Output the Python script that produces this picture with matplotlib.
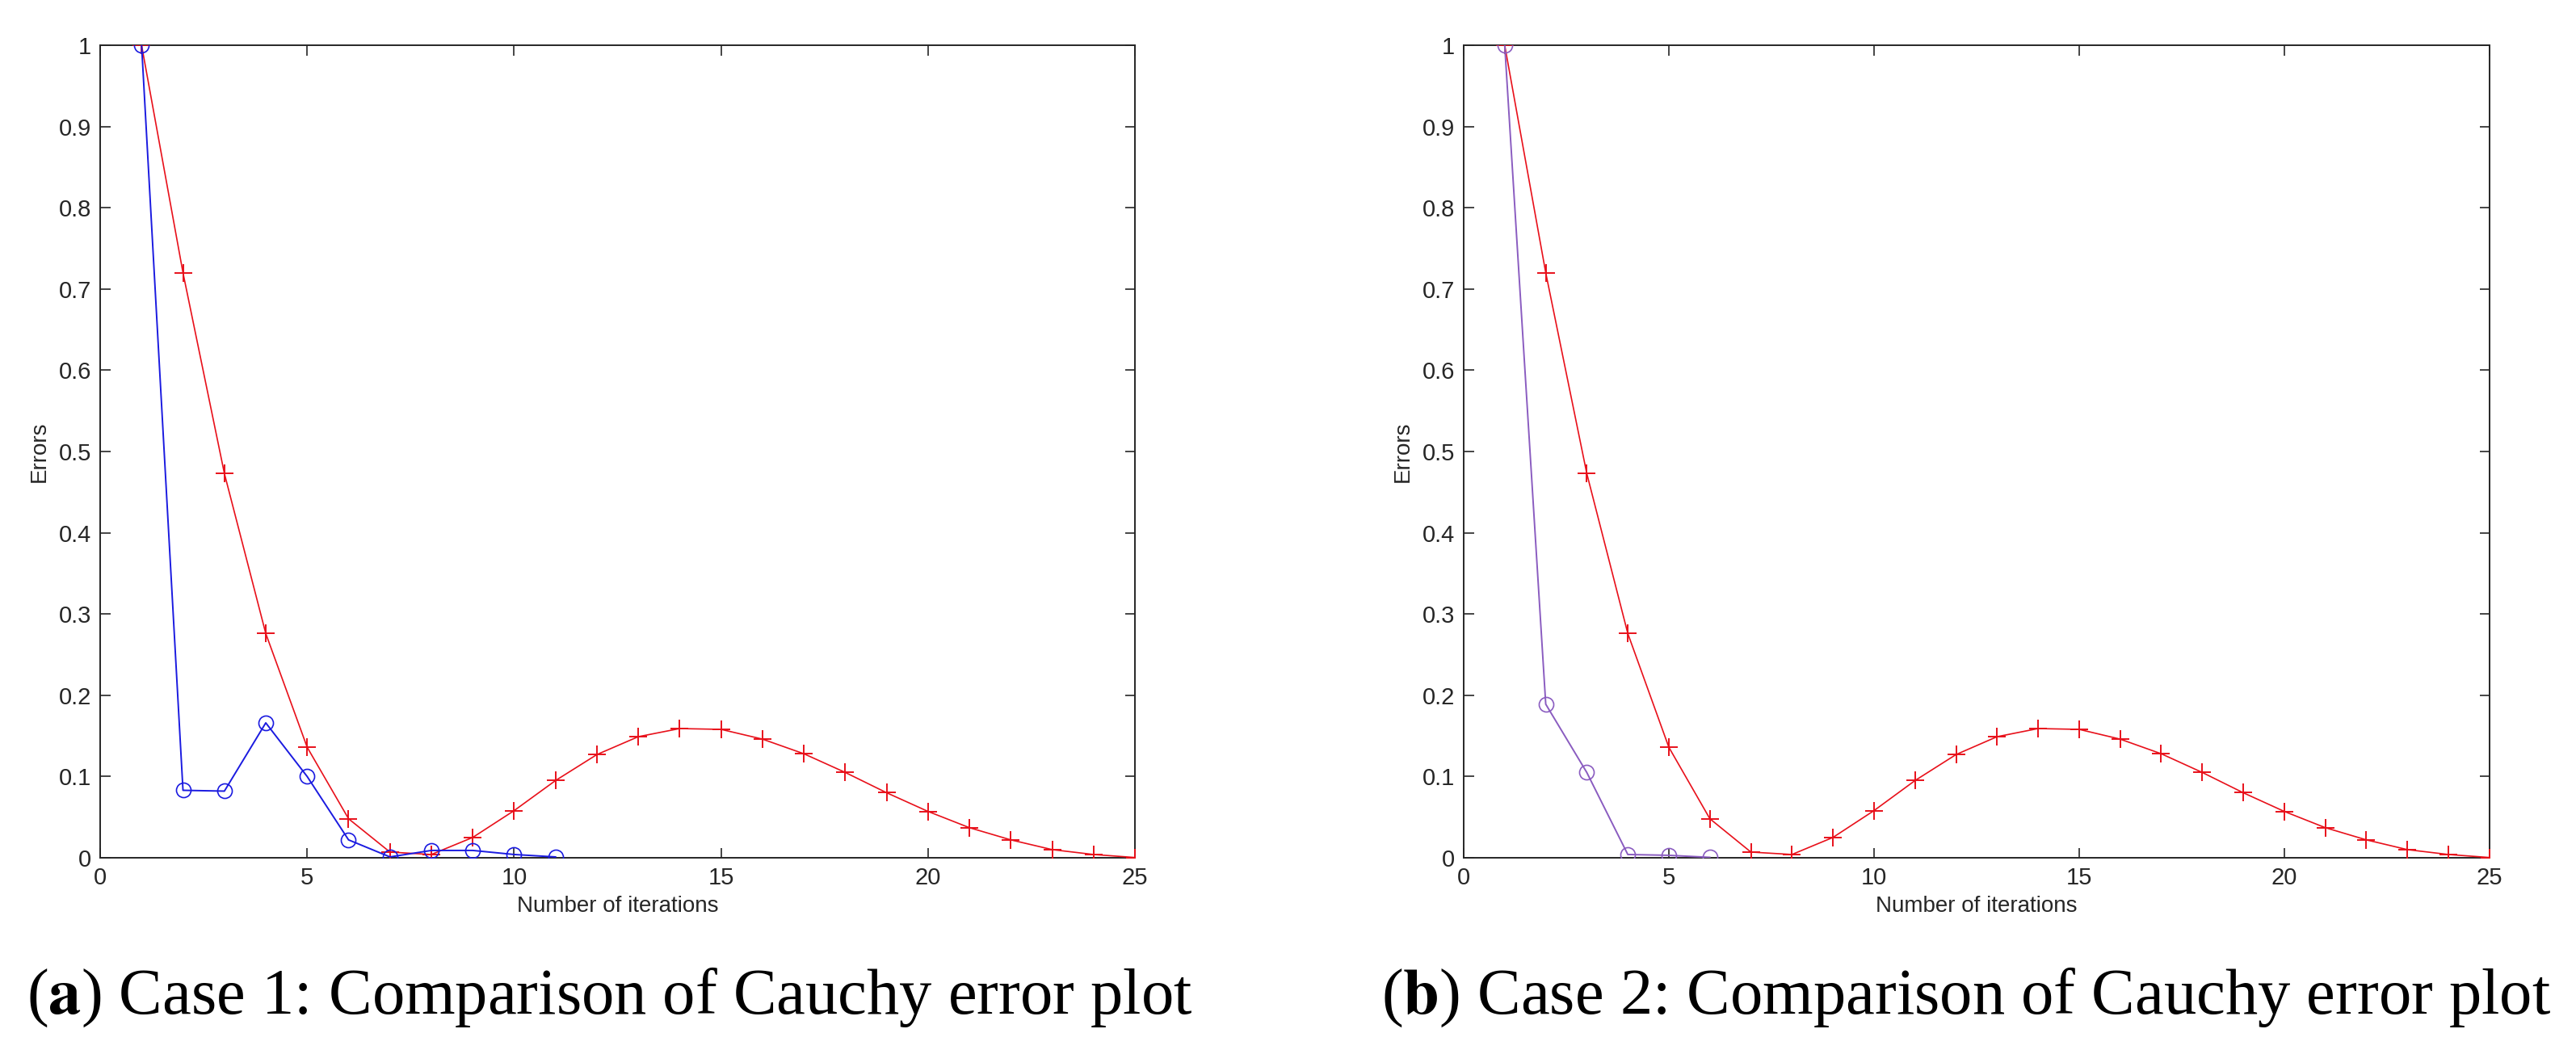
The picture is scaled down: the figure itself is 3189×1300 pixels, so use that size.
import numpy as np
import matplotlib
matplotlib.use('Agg')
import matplotlib.pyplot as plt

# ── data ──
iters_red = list(range(1, 26))
err_red = [1.0, 0.72, 0.473, 0.276, 0.136, 0.048, 0.007, 0.004, 0.025, 0.058,
           0.095, 0.127, 0.149, 0.159, 0.158, 0.146, 0.128, 0.105, 0.080, 0.057,
           0.037, 0.022, 0.010, 0.004, 0.0003]

iters_case1 = list(range(1, 12))
err_case1 = [1.0, 0.083, 0.082, 0.166, 0.100, 0.022, 0.001, 0.009, 0.009, 0.004, 0.001]

iters_case2 = list(range(1, 7))
err_case2 = [1.0, 0.189, 0.105, 0.004, 0.003, 0.0005]

xticks = [0, 5, 10, 15, 20, 25]
yticks = [0, 0.1, 0.2, 0.3, 0.4, 0.5, 0.6, 0.7, 0.8, 0.9, 1]
ytick_labels = ['0', '0.1', '0.2', '0.3', '0.4', '0.5', '0.6', '0.7', '0.8', '0.9', '1']

captions = [('a', ' Case 1: Comparison of Cauchy error plot'),
            ('b', ' Case 2: Comparison of Cauchy error plot')]

ax_color = '#262626'
plt.rcParams['font.family'] = ['Liberation Sans', 'DejaVu Sans']

fig = plt.figure(figsize=(31.89, 13), dpi=100)
ax1 = fig.add_axes([0.0389, 0.1831, 0.4017, 0.7738])
ax2 = fig.add_axes([0.5682, 0.1831, 0.3982, 0.7738])


def style(ax):
    ax.set_xlim(0, 25)
    ax.set_ylim(0, 1)
    ax.set_xticks(xticks)
    ax.set_yticks(yticks)
    ax.set_yticklabels(ytick_labels)
    ax.tick_params(direction='in', length=9, width=1.2, top=True, right=True,
                   labelsize=21, colors=ax_color, pad=8)
    for s in ax.spines.values():
        s.set_color(ax_color)
        s.set_linewidth(1.4)
    ax.set_xlabel('Number of iterations', fontsize=20, color=ax_color, labelpad=6)
    ax.set_ylabel('Errors', fontsize=20, color=ax_color, labelpad=8)
    ax.set_facecolor('white')


# ── (a) Case 1 ──
ax1.plot(iters_red, err_red, color='#e8101a', marker='+', markersize=16,
         markeredgewidth=1.4, linewidth=1.2, zorder=3)
ax1.plot(iters_case1, err_case1, color='#1a1ae0', marker='o', markersize=13,
         markerfacecolor='none', markeredgewidth=1.2, linewidth=1.4, zorder=4)
style(ax1)

# ── (b) Case 2 ──
ax2.plot(iters_red, err_red, color='#e8101a', marker='+', markersize=16,
         markeredgewidth=1.4, linewidth=1.2, zorder=3)
ax2.plot(iters_case2, err_case2, color='#8a5cc0', marker='o', markersize=13,
         markerfacecolor='none', markeredgewidth=1.2, linewidth=1.4, zorder=4)
style(ax2)

# ── captions ──
for xc, (tag, rest) in zip([0.2368, 0.7633], captions):
    fig.text(xc, 0.0346,
             r'($\mathbf{' + tag + r'}$)' + rest,
             ha='center', va='baseline', fontsize=58,
             family=['Liberation Serif', 'DejaVu Serif'],
             math_fontfamily='stix')

fig.savefig('out.png', dpi=100, facecolor='white')
